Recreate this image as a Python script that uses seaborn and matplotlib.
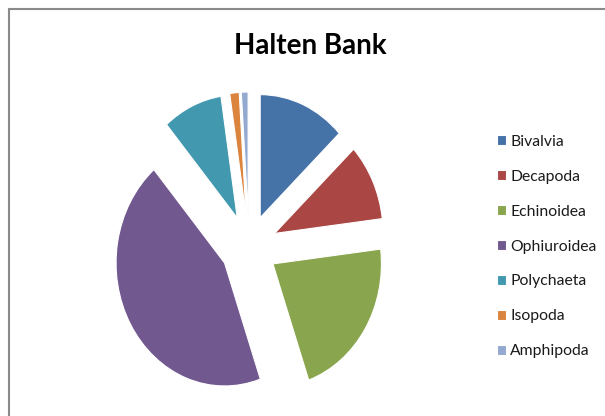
import matplotlib
matplotlib.use("Agg")
import matplotlib.pyplot as plt
from matplotlib import font_manager
from matplotlib.lines import Line2D
import seaborn as sns

# ---- data ----
categories = ["Bivalvia", "Decapoda", "Echinoidea", "Ophiuroidea",
              "Polychaeta", "Isopoda", "Amphipoda"]
values = [13.0, 10.1, 21.6, 44.1, 8.9, 1.4, 1.0]
colors = ["#4572A7", "#AA4643", "#89A54E", "#71588F",
          "#4198AF", "#DB843D", "#93A9CF"]
title = "Halten Bank"

sns.set_theme(style="white")

available = {f.name for f in font_manager.fontManager.ttflist}
fam = [f for f in ["Liberation Sans Narrow", "Lato", "DejaVu Sans"] if f in available]
plt.rcParams["font.family"] = fam

W, H = 605, 416
fig = plt.figure(figsize=(W / 100, H / 100), dpi=100)
fig.patch.set_facecolor("white")
ax = fig.add_axes([0, 0, 1, 1])

palette = sns.color_palette(colors)
wedges, _ = ax.pie(values, colors=palette, startangle=90, counterclock=False,
                   explode=[0.26] * len(values),
                   wedgeprops=dict(edgecolor="white", linewidth=0.8))

# pixel geometry: centre (249,247), radius 108.5 px horizontally, 123 px vertically
cx, cy, rx, ry = 249, 247, 108.5, 123
ax.set_aspect("auto")
ax.set_xlim(-cx / rx, (W - cx) / rx)
ax.set_ylim(-(H - cy) / ry, cy / ry)
ax.axis("off")

fig.text(310 / W, 1 - 54 / H, title, ha="center", va="baseline",
         fontsize=20, fontweight="bold", color="black")

leg = ax.legend(wedges, categories, loc="upper left",
                bbox_to_anchor=(497 / W, 1 - 135 / H),
                bbox_transform=fig.transFigure,
                frameon=False, fontsize=11.3, handlelength=0.6,
                handleheight=0.6, handletextpad=0.25, labelspacing=1.33,
                borderpad=0, borderaxespad=0)
for t in leg.get_texts():
    t.set_color("#1a1a1a")

# chart area border (left and top edges visible)
bc = "#8a8a8a"
fig.add_artist(Line2D([9 / W, 1], [1 - 9 / H, 1 - 9 / H], transform=fig.transFigure,
                      color=bc, linewidth=1.5))
fig.add_artist(Line2D([9 / W, 9 / W], [0, 1 - 9 / H], transform=fig.transFigure,
                      color=bc, linewidth=1.5))

fig.savefig("out.png", dpi=100, facecolor="white")
